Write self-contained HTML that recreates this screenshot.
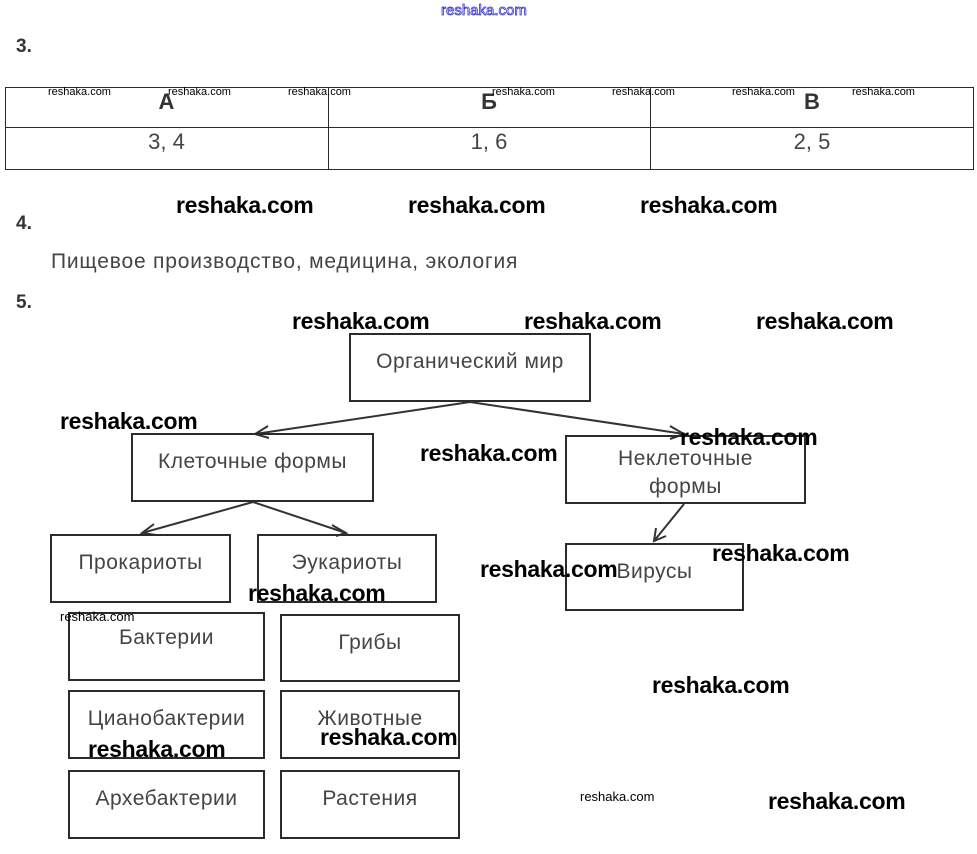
<!DOCTYPE html>
<html><head><meta charset="utf-8"><style>
body{margin:0;width:977px;height:854px;background:#fff;position:relative;overflow:hidden;font-family:"Liberation Sans",sans-serif;}
.a{position:absolute;white-space:nowrap;}
.b{position:absolute;border:2px solid #2b2b2b;box-sizing:border-box;color:#444;font-size:21px;letter-spacing:0.5px;text-align:center;line-height:28px;padding-top:13px;}
.w{position:absolute;white-space:nowrap;font-weight:bold;font-size:23px;line-height:24px;color:#000;letter-spacing:-0.3px;}
.s{position:absolute;white-space:nowrap;font-size:11px;line-height:12px;color:#000;}
.n{position:absolute;font-weight:bold;font-size:19px;color:#333;}
.t{position:absolute;border:1.5px solid #2b2b2b;box-sizing:border-box;}
.c{position:absolute;text-align:center;color:#444;font-size:22px;line-height:26px;}
</style></head><body>
<div class="a" style="left:441px;top:2px;font-size:15px;color:#fff;-webkit-text-stroke:0.8px #3333cc;">reshaka.com</div>
<div class="n" style="left:16px;top:36px;">3.</div>
<div class="t" style="left:5px;top:87px;width:969px;height:83px;"></div>
<div class="t" style="left:5px;top:127px;width:969px;height:2px;border-width:1px 0 0 0;"></div>
<div class="t" style="left:328px;top:87px;width:2px;height:83px;border-width:0 0 0 1.5px;"></div>
<div class="t" style="left:650px;top:87px;width:2px;height:83px;border-width:0 0 0 1.5px;"></div>
<div class="c" style="left:5px;top:89px;width:323px;font-weight:bold;color:#333;">А</div>
<div class="c" style="left:328px;top:89px;width:322px;font-weight:bold;color:#333;">Б</div>
<div class="c" style="left:650px;top:89px;width:324px;font-weight:bold;color:#333;">В</div>
<div class="c" style="left:5px;top:129px;width:323px;">3, 4</div>
<div class="c" style="left:328px;top:129px;width:322px;">1, 6</div>
<div class="c" style="left:650px;top:129px;width:324px;">2, 5</div>
<div class="n" style="left:16px;top:213px;">4.</div>
<div class="a" style="left:51px;top:250px;font-size:21px;letter-spacing:0.8px;color:#444;">Пищевое производство, медицина, экология</div>
<div class="n" style="left:16px;top:292px;">5.</div>

<svg style="position:absolute;left:0;top:0" width="977" height="854">
<g stroke="#333" stroke-width="2" fill="none">
<line x1="470" y1="402" x2="255" y2="434"/><polyline points="268,426 255,434 269,438"/>
<line x1="470" y1="402" x2="684" y2="434"/><polyline points="670,426 684,434 670,439"/>
<line x1="253" y1="502" x2="142" y2="533"/><polyline points="154,524 142,533 156,535"/>
<line x1="253" y1="502" x2="346" y2="533"/><polyline points="332,525 346,533 336,536"/>
<line x1="684" y1="504" x2="654" y2="541"/><polyline points="656,528 654,541 666,536"/>
</g></svg>

<div class="b" style="left:349px;top:333px;width:242px;height:69px;">Органический мир</div>
<div class="b" style="left:131px;top:433px;width:243px;height:69px;">Клеточные формы</div>
<div class="b" style="left:565px;top:435px;width:241px;height:69px;padding-top:8px;">Неклеточные<br>формы</div>
<div class="b" style="left:50px;top:534px;width:181px;height:69px;">Прокариоты</div>
<div class="b" style="left:257px;top:534px;width:180px;height:69px;">Эукариоты</div>
<div class="b" style="left:565px;top:543px;width:179px;height:68px;">Вирусы</div>
<div class="b" style="left:68px;top:612px;width:197px;height:69px;padding-top:10px;">Бактерии</div>
<div class="b" style="left:280px;top:614px;width:180px;height:68px;">Грибы</div>
<div class="b" style="left:68px;top:690px;width:197px;height:69px;">Цианобактерии</div>
<div class="b" style="left:280px;top:690px;width:180px;height:69px;">Животные</div>
<div class="b" style="left:68px;top:770px;width:197px;height:69px;">Архебактерии</div>
<div class="b" style="left:280px;top:770px;width:180px;height:69px;">Растения</div>

<div class="s" style="left:48px;top:86px;">reshaka.com</div>
<div class="s" style="left:168px;top:86px;">reshaka.com</div>
<div class="s" style="left:288px;top:86px;">reshaka.com</div>
<div class="s" style="left:492px;top:86px;">reshaka.com</div>
<div class="s" style="left:612px;top:86px;">reshaka.com</div>
<div class="s" style="left:732px;top:86px;">reshaka.com</div>
<div class="s" style="left:852px;top:86px;">reshaka.com</div>
<div class="s" style="left:60px;top:611px;font-size:13px;">reshaka.com</div>
<div class="s" style="left:580px;top:791px;font-size:13px;">reshaka.com</div>

<div class="w" style="left:176px;top:193px;">reshaka.com</div>
<div class="w" style="left:408px;top:193px;">reshaka.com</div>
<div class="w" style="left:640px;top:193px;">reshaka.com</div>
<div class="w" style="left:292px;top:309px;">reshaka.com</div>
<div class="w" style="left:524px;top:309px;">reshaka.com</div>
<div class="w" style="left:756px;top:309px;">reshaka.com</div>
<div class="w" style="left:60px;top:409px;">reshaka.com</div>
<div class="w" style="left:420px;top:441px;">reshaka.com</div>
<div class="w" style="left:680px;top:425px;">reshaka.com</div>
<div class="w" style="left:480px;top:557px;">reshaka.com</div>
<div class="w" style="left:712px;top:541px;">reshaka.com</div>
<div class="w" style="left:248px;top:581px;">reshaka.com</div>
<div class="w" style="left:652px;top:673px;">reshaka.com</div>
<div class="w" style="left:88px;top:737px;">reshaka.com</div>
<div class="w" style="left:320px;top:725px;">reshaka.com</div>
<div class="w" style="left:768px;top:789px;">reshaka.com</div>
</body></html>
